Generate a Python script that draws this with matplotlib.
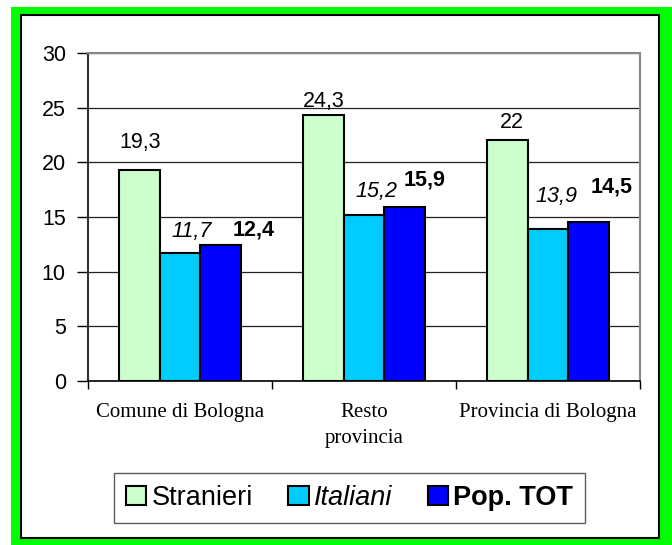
import matplotlib
matplotlib.use("Agg")
import matplotlib.pyplot as plt
from matplotlib.patches import Rectangle
import numpy as np

categories = ["Comune di Bologna", "Resto\nprovincia", "Provincia di Bologna"]
series_names = ["Stranieri", "Italiani", "Pop. TOT"]
stranieri = [19.3, 24.3, 22]
italiani = [11.7, 15.2, 13.9]
pop_tot = [12.4, 15.9, 14.5]
value_labels = [["19,3", "24,3", "22"], ["11,7", "15,2", "13,9"], ["12,4", "15,9", "14,5"]]
yticks = [0, 5, 10, 15, 20, 25, 30]

colors = ["#CCFFCC", "#00CCFF", "#0000FF"]
styles = [dict(), dict(style="italic"), dict(weight="bold")]
# label offsets in pixels (dx, dy above bar top), per series per group
offsets = [[(1, 22), (1, 8), (5, 12)],
           [(12, 16), (12, 18), (8, 27)],
           [(33, 10), (20, 22), (23, 30)]]

plt.rcParams['font.family'] = ['Liberation Sans', 'DejaVu Sans']

W, H = 672, 545
fig = plt.figure(figsize=(W / 100, H / 100), dpi=100)
fig.patch.set_facecolor("white")

# green frame
fig.patches.append(Rectangle((11 / W, 0), (W - 11) / W, (H - 7) / H, transform=fig.transFigure,
                             facecolor="#00FF00", edgecolor="none", zorder=-10))
fig.patches.append(Rectangle((21 / W, (H - 538) / H), (659 - 21) / W, (538 - 15) / H,
                             transform=fig.transFigure, facecolor="white", edgecolor="black",
                             lw=1.5, zorder=-9))

left, right, top, bottom = 88, 640, 53, 381
ax = fig.add_axes([left / W, (H - bottom) / H, (right - left) / W, (bottom - top) / H])
ax.set_facecolor("white")

x = np.arange(len(categories))
w = 0.2228
data = [stranieri, italiani, pop_tot]
for i, (vals, c, name) in enumerate(zip(data, colors, series_names)):
    xs = x + (i - 1) * w
    ax.bar(xs, vals, width=w, color=c, edgecolor="black", lw=1.5, label=name, zorder=3)
    for j, (xx, v) in enumerate(zip(xs, vals)):
        dx, dy = offsets[i][j]
        ax.annotate(value_labels[i][j], xy=(xx, v), xytext=(dx, dy), textcoords="offset pixels",
                    ha="center", va="baseline", fontsize=15.5, color="black", **styles[i])

ax.set_xlim(-0.5, 2.5)
ax.set_ylim(0, 30)
ax.set_yticks(yticks)
ax.set_yticklabels([str(t) for t in yticks], fontsize=15.5)
ax.yaxis.grid(True, color="#222222", lw=0.9, zorder=0)
ax.set_axisbelow(True)

ax.set_xticks([-0.5, 0.5, 1.5, 2.5])
ax.set_xticklabels([])
ax.set_xticks(x, minor=True)
ax.set_xticklabels(categories, minor=True, fontsize=15, family="Liberation Serif", linespacing=1.5)
ax.tick_params(axis="x", which="minor", length=0, pad=16)
ax.tick_params(axis="x", which="major", length=6, width=1, direction="out")
ax.tick_params(axis="y", length=8, width=1, direction="out", pad=8)

for s in ["top", "right"]:
    ax.spines[s].set_color("#888888")
    ax.spines[s].set_linewidth(1.5)
ax.spines["left"].set_color("#333333")
ax.spines["left"].set_linewidth(1.5)
ax.spines["bottom"].set_color("black")
ax.spines["bottom"].set_linewidth(1.2)

handles, labels = ax.get_legend_handles_labels()
leg = fig.legend(handles, labels, loc="center", bbox_to_anchor=((115 + 584) / 2 / W, 1 - 498 / H),
                 ncol=3, fontsize=19.5, frameon=True, fancybox=False, handlelength=0.75,
                 handleheight=0.7, handletextpad=0.2, columnspacing=1.3, borderpad=0.45)
leg.get_frame().set_edgecolor("#333333")
leg.get_frame().set_linewidth(1.0)
texts = leg.get_texts()
texts[1].set_fontstyle("italic")
texts[2].set_fontweight("bold")

fig.savefig("out.png", dpi=100, facecolor="white")
